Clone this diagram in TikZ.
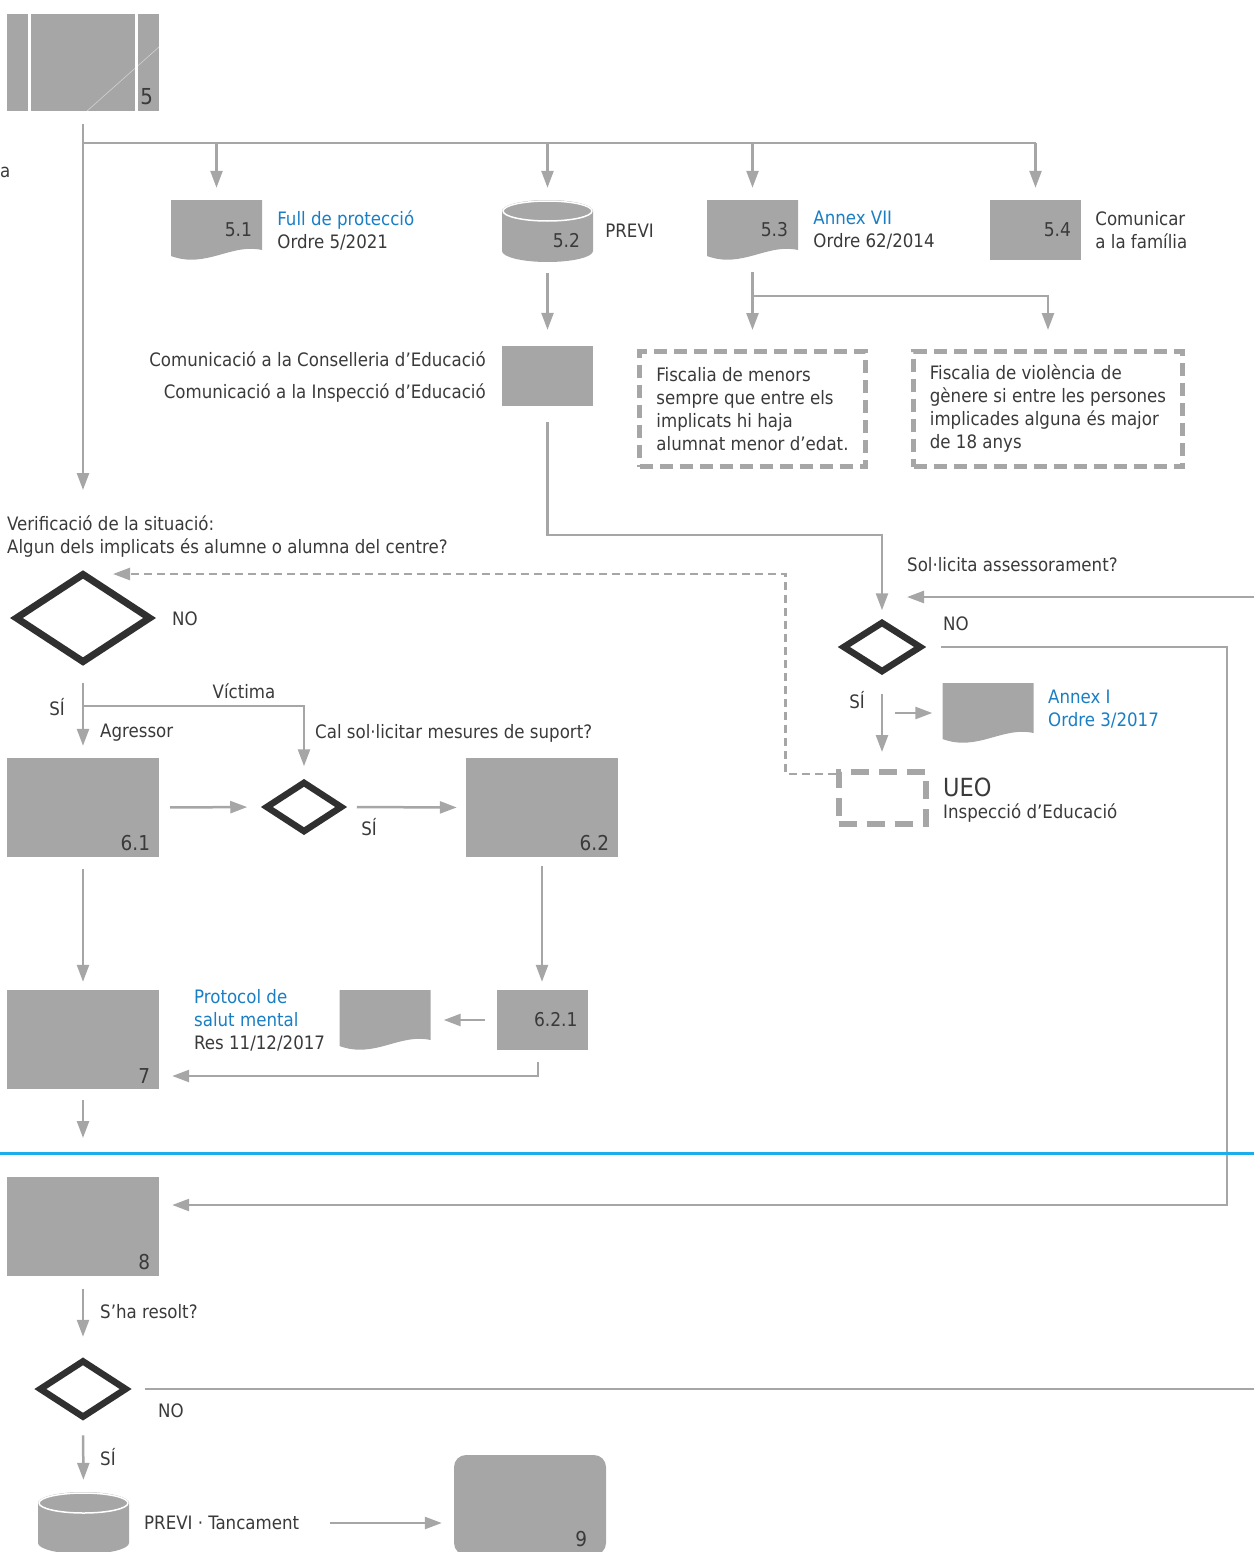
\documentclass[tikz,border=0pt]{standalone}
\usepackage{fontspec}
\setmainfont{DejaVu Sans Condensed}
\usetikzlibrary{positioning}
\usetikzlibrary{arrows.meta}
\usetikzlibrary{shapes.geometric}
\definecolor{boxgray}{HTML}{A6A6A6}
\definecolor{linegray}{HTML}{A6A6A6}
\definecolor{ink}{HTML}{3A3A3A}
\definecolor{diaink}{HTML}{303030}
\definecolor{linkblue}{HTML}{1A7EC4}
\definecolor{rulecol}{HTML}{1BAEEB}

\tikzset{
  box/.style={fill=boxgray, inner sep=0pt, minimum width=152pt, minimum height=99pt},
  smallbox/.style={fill=boxgray, inner sep=0pt, minimum width=91pt, minimum height=60pt},
  numSE/.style={label={[anchor=south east, inner sep=0pt, xshift=-9pt, yshift=6pt,
    font=\fontsize{20.5}{24}\selectfont]south east:#1}},
  numE/.style={label={[anchor=east, inner sep=0pt, xshift=-10pt,
    font=\fontsize{19}{23}\selectfont]east:#1}},
  doc/.style={inner sep=0pt, minimum width=91pt, minimum height=60pt,
    path picture={
      \fill[boxgray] (path picture bounding box.north west) -- (path picture bounding box.north east)
        -- ([yshift=10pt]path picture bounding box.south east)
        .. controls ([xshift=-31pt,yshift=17pt]path picture bounding box.south east)
        and ([xshift=35pt,yshift=-9pt]path picture bounding box.south west)
        .. ([yshift=4pt]path picture bounding box.south west) -- cycle;}},
  cyl/.style={inner sep=0pt, minimum width=91pt, minimum height=62pt,
    path picture={
      \fill[boxgray] ([yshift=-11pt]path picture bounding box.north west)
        arc[start angle=180, end angle=0, x radius=45.5pt, y radius=11pt]
        -- ([yshift=11pt]path picture bounding box.south east)
        arc[start angle=0, end angle=-180, x radius=45.5pt, y radius=11pt] -- cycle;
      \draw[white, line width=1.5pt] ([yshift=-11pt]path picture bounding box.north)
        ellipse[x radius=44.5pt, y radius=10pt];}},
  dia/.style={diamond, draw=diaink, line width=6.5pt, fill=white, inner sep=0pt},
  flow/.style={draw=linegray, line width=2.5pt},
  dashbox/.style={draw=linegray, line width=5pt, dash pattern=on 13pt off 7pt},
  txt/.style={anchor=west, align=left, inner sep=0pt},
}

\begin{document}
\begin{tikzpicture}[x=1pt, y=-1pt, >={Triangle[length=17pt,width=12pt]},
  text=ink, font=\fontsize{18.5}{23}\selectfont]
\useasboundingbox (0,0) rectangle (1254,1552);

% step 5
\node[box, minimum height=97pt,
  label={[anchor=south east, inner sep=0pt, xshift=-6pt, yshift=6pt, font=\fontsize{22}{26}\selectfont]south east:5}] (s5) at (83,62.5) {};
\draw[white, line width=3pt] ([xshift=23pt]s5.north west) -- ([xshift=23pt]s5.south west);
\draw[white, line width=3pt] ([xshift=-23pt]s5.north east) -- ([xshift=-23pt]s5.south east);
\draw[white, opacity=.5, line width=.6pt] ([xshift=80pt]s5.south west) -- ([yshift=-33pt]s5.north east);
\node[txt] (cut) at (0,172) {a};

% 5.1 - 5.4
\node[doc, numE=5.1] (d51) at (216.5,230) {};
\node[txt, right=15pt of d51] (t51) {\textcolor{linkblue}{Full de protecció}\\Ordre 5/2021};
\node[cyl, label={[anchor=east, inner sep=0pt, xshift=-13pt, yshift=-10pt, font=\fontsize{19}{23}\selectfont]east:5.2}] (d52) at (547.5,231) {};
\node[txt, right=12pt of d52] (t52) {PREVI};
\node[doc, numE=5.3] (d53) at (752.5,230) {};
\node[txt, right=15pt of d53] (t53) {\textcolor{linkblue}{Annex VII}\\Ordre 62/2014};
\node[smallbox, numE=5.4] (d54) at (1035.5,230) {};
\node[txt, right=14pt of d54] (t54) {Comunicar\\a la família};

\node[smallbox] (comm) at (547.5,376) {};
\node[txt, anchor=east] (c1) at (486,359) {Comunicació a la Conselleria d’Educació};
\node[txt, anchor=east] (c2) at (486,393) {Comunicació a la Inspecció d’Educació};

\node[dashbox, minimum width=226pt, minimum height=115pt, align=left] (fm) at (752.5,409)
  {Fiscalia de menors\\sempre que entre els\\implicats hi haja\\alumnat menor d’edat.};
\node[dashbox, minimum width=269pt, minimum height=115pt, align=left] (fv) at (1048,409)
  {Fiscalia de violència de\\gènere si entre les persones\\implicades alguna és major\\de 18 anys};

% verification
\node[txt] (verq) at (7,537) {Verificació de la situació:\\Algun dels implicats és alumne o alumna del centre?};
\node[dia, line width=7pt, minimum width=136pt, minimum height=90pt] (dia1) at (83,618) {};
\node[txt] (no1) at (172,619) {NO};

% advice
\node[txt] (askq) at (907,565) {Sol·licita assessorament?};
\node[dia, minimum width=79pt, minimum height=51pt] (dia2) at (882,647) {};
\node[txt] (no2) at (943,624) {NO};
\node (si2) at (857,700) {SÍ};
\node[doc] (a1) at (988,713) {};
\node[txt, text=linkblue] (ta1) at (1048,709) {Annex I\\Ordre 3/2017};
\node[dashbox, line width=6pt, dash pattern=on 18pt off 10pt, minimum width=87pt, minimum height=52pt] (ueo) at (882,798) {};
\node[txt, font=\fontsize{25}{29}\selectfont] (tueo) at (943,787) {UEO};
\node[txt] (tinsp) at (943,813) {Inspecció d’Educació};

% step 6
\node (si1) at (57,707) {SÍ};
\node (vict) at (244,691) {Víctima};
\node[txt] (agr) at (100,733) {Agressor};
\node[txt] (supq) at (315,733) {Cal sol·licitar mesures de suport?};
\node[box, numSE=6.1] (b61) at (83,807.5) {};
\node[dia, minimum width=77pt, minimum height=51pt] (dia3) at (304,807) {};
\node (si3) at (369,827) {SÍ};
\node[box, numSE=6.2] (b62) at (542,807.5) {};

% step 7
\node[box, numSE=7] (b7) at (83,1039.5) {};
\node[smallbox, numE=6.2.1] (b621) at (542,1020) {};
\node[doc] (pm) at (385,1020) {};
\node[txt] (tpm) at (194,1020) {\textcolor{linkblue}{Protocol de}\\\textcolor{linkblue}{salut mental}\\Res 11/12/2017};

% step 8, 9
\node[box, numSE=8] (b8) at (83,1226) {};
\node[txt] (resq) at (100,1312) {S’ha resolt?};
\node[dia, minimum width=88pt, minimum height=58pt] (dia4) at (83,1389) {};
\node[txt] (no4) at (158,1411) {NO};
\node[txt] (si4) at (100,1457) {SÍ};
\node[cyl] (db9) at (83.5,1523) {};
\node[txt] (tcl) at (144,1523) {PREVI · Tancament};
\node[box, rounded corners=12pt, minimum height=100pt,
  label={[anchor=south east, inner sep=0pt, xshift=-19pt, yshift=8pt, font=\fontsize{20.5}{24}\selectfont]south east:9}] (b9) at (530,1505) {};

% connectors
\coordinate (fork) at (83,143);
\coordinate (verif) at (83,490);
\draw[flow,->] ([yshift=-13pt]s5.south) -- (verif);
\draw[flow] (fork) -- (fork -| d54.north);
\foreach \n in {d51,d52,d53,d54}
  \draw[flow,->,shorten >=12pt] (fork -| \n.north) -- (\n.north);
\draw[flow,->,shorten <=11pt,shorten >=16pt] (d52.south) -- (comm.north);
\draw[flow,->,shorten <=16pt,shorten >=8pt] (comm.south) -- ++(0,129) -| (dia2.north);
\coordinate (split53) at (752.5,296);
\draw[flow,->,shorten <=12pt,shorten >=19pt] (d53.south) -- (fm.north);
\draw[flow,->,shorten >=19pt] (split53) -| (fv.north);

\coordinate (fb) at (113,574);
\draw[flow, dash pattern=on 8pt off 5pt, ->] ([yshift=-5pt]ueo.north west) -- ++(-50,0) |- (fb);
\coordinate (inR) at (1254,597);
\coordinate (inTip) at (907,597);
\draw[flow,->] (inR) -- (inTip);
\draw[flow,->,shorten <=16pt,shorten >=13pt] (dia2.east) -- ++(302,0) |- ([yshift=21pt]b8.east);
\draw[flow,->,shorten <=18pt,shorten >=17pt] (dia2.south) -- (ueo.north);
\draw[flow,->] ([xshift=-47pt]a1.west) -- ([xshift=-10pt]a1.west);

\coordinate (split) at (83,706);
\draw[flow,->,shorten <=16pt,shorten >=12pt] (dia1.south) -- (b61.north);
\draw[flow,->,shorten >=12pt] (split) -| (dia3.north);
\draw[flow,->,shorten <=11pt,shorten >=15pt] (b61.east) -- (dia3.west);
\draw[flow,->,shorten <=11pt,shorten >=9pt] (dia3.east) -- (b62.west);
\draw[flow,->,shorten <=12pt,shorten >=8pt] (b61.south) -- (b7.north);
\draw[flow,->,shorten <=9pt,shorten >=8pt] (b62.south) -- (b621.north);
\draw[flow,->,shorten <=11pt,shorten >=13pt] (b621.west) -- (pm.east);
\draw[flow,->,shorten <=12pt,shorten >=13pt] ([xshift=-4pt]b621.south) |- ([yshift=-36.5pt]b7.east);
\coordinate (out7) at (83,1138);
\draw[flow,->,shorten <=11pt] (b7.south) -- (out7);
\draw[rulecol, line width=3pt] (0,1153) -- (1254,1153);

\draw[flow,->,shorten <=13pt,shorten >=20pt] (b8.south) -- (dia4.north);
\coordinate (outR) at (1254,1389);
\draw[flow,shorten <=15pt] (dia4.east) -- (outR);
\draw[flow,->,shorten <=14pt,shorten >=12pt] (dia4.south) -- (db9.north);
\coordinate (tc) at (330,1523);
\draw[flow,->,shorten >=12pt] (tc) -- ([yshift=-18pt]b9.west);
\end{tikzpicture}
\end{document}
